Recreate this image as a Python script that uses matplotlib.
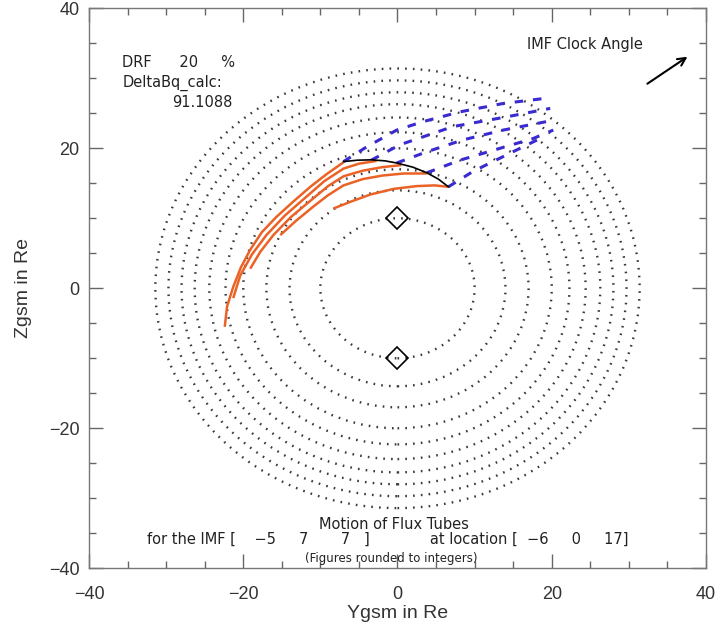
import matplotlib.pyplot as plt
from matplotlib.patches import Circle


plt.rcParams["font.family"] = ["Liberation Sans", "DejaVu Sans"]


# =========================================================
# Data (GSM coordinates, Re)
# =========================================================

# radii of the dotted magnetopause cross sections
contour_radii = [10, 14, 17, 20, 22.3, 24.4, 26.3, 28, 29.7, 31.4]

# cusp markers
cusp_y = [0, 0]
cusp_z = [10, -10]

# flux tube traces (orange)
tube1_y = [-22.4, -22.1, -21.3, -20.3, -19.1, -17.6, -15.7, -13.5, -11.3, -9.2, -7.0]
tube1_z = [-5.5, -2.6, 0.2, 3.0, 5.5, 8.0, 10.2, 12.4, 14.5, 16.3, 18.0]

tube2_y = [-21.3, -20.4, -18.9, -17.0, -14.6, -12.0, -9.5, -7.0, -5.0, -2.7]
tube2_z = [-1.4, 1.8, 4.8, 7.6, 10.4, 12.9, 15.3, 17.1, 17.8, 18.2]

tube3_y = [-19.1, -17.8, -16.1, -13.8, -11.3, -9.0, -7.0, -4.5, -2.0, 0.5]
tube3_z = [2.8, 5.2, 7.6, 10.2, 12.5, 14.6, 16.0, 16.8, 17.3, 17.6]

tube4_y = [-15.2, -13.2, -11.0, -9.0, -7.0, -4.5, -2.0, 0.8, 3.8]
tube4_z = [7.6, 9.6, 11.6, 13.3, 14.7, 15.6, 16.1, 16.4, 16.4]

tube5_y = [-8.3, -6.0, -3.5, -0.5, 2.5, 4.8, 6.6]
tube5_z = [11.4, 12.4, 13.4, 14.2, 14.6, 14.7, 14.5]

tubes = [
    (tube1_y, tube1_z),
    (tube2_y, tube2_z),
    (tube3_y, tube3_z),
    (tube4_y, tube4_z),
    (tube5_y, tube5_z),
]

# reconnection line (black)
xline_y = [-7.0, -5.2, -3.4, -1.6, -0.1, 2.0, 3.8, 5.3, 6.6]
xline_z = [18.1, 18.3, 18.35, 18.2, 17.9, 17.3, 16.5, 15.6, 14.5]

# draped field lines (blue dashed)
drape1_y = [-7.0, -4.0, -0.1, 3.3, 8.1, 13.7, 18.9]
drape1_z = [18.1, 20.2, 22.6, 23.8, 25.2, 26.4, 27.1]

drape2_y = [-3.4, 0.3, 7.2, 14.2, 19.8]
drape2_z = [18.3, 20.5, 23.1, 24.5, 25.7]

drape3_y = [-0.1, 3.8, 8.5, 13.7, 20.2]
drape3_z = [17.9, 19.5, 21.2, 22.6, 24.0]

drape4_y = [3.8, 8.1, 13.3, 17.6, 20.2]
drape4_z = [16.5, 18.3, 20.0, 21.4, 22.6]

drape5_y = [6.6, 9.8, 14.6, 18.5]
drape5_z = [14.5, 16.7, 19.3, 21.4]

drapes = [
    (drape1_y, drape1_z),
    (drape2_y, drape2_z),
    (drape3_y, drape3_z),
    (drape4_y, drape4_z),
    (drape5_y, drape5_z),
]

# IMF clock angle arrow (tail, head)
arrow_tail = (32.1, 29.0)
arrow_head = (37.9, 33.3)

drf = 20
delta_bq = 91.1088
imf = [-5, 7, 7]
location = [-6, 0, 17]


def num(v):
    # integer with a typographic minus sign
    return str(v).replace("-", "\u2212")


# =========================================================
# Figure
# =========================================================

fig = plt.figure(figsize=(7.22, 6.27), dpi=100)

ax = fig.add_axes([0.1233, 0.0936, 0.8545, 0.8932])

ax.set_xlim(-40, 40)
ax.set_ylim(-40, 40)


# dotted contours
for r in contour_radii:

    ax.add_patch(
        Circle(
            (0, 0),
            r,
            fill=False,
            edgecolor="#3a3a3a",
            linewidth=1.7,
            linestyle=(0, (0.7, 2.6)),
        )
    )


ax.plot(
    cusp_y,
    cusp_z,
    linestyle="none",
    marker="D",
    markersize=11.5,
    markerfacecolor="none",
    markeredgecolor="black",
    markeredgewidth=1.2,
)


for ys, zs in drapes:

    ax.plot(
        ys,
        zs,
        color="#3a2bd1",
        linewidth=2.2,
        linestyle=(0, (2.8, 3.2)),
    )


for ys, zs in tubes:

    ax.plot(
        ys,
        zs,
        color="#eb6226",
        linewidth=1.8,
        solid_capstyle="butt",
        solid_joinstyle="round",
    )


ax.plot(
    xline_y,
    xline_z,
    color="black",
    linewidth=1.2,
)


ax.annotate(
    "",
    xy=arrow_head,
    xytext=arrow_tail,
    arrowprops=dict(
        arrowstyle="->",
        color="black",
        linewidth=1.5,
        mutation_scale=14,
    ),
)


# =========================================================
# Labels
# =========================================================

small = dict(fontsize=10.5, color="#222222", family="DejaVu Sans")

ax.text(16.8, 34.8, "IMF Clock Angle", va="center", **small)

ax.text(-35.7, 32.2, "DRF      %d     %%" % drf, va="center", **small)
ax.text(-35.7, 29.3, "DeltaBq_calc:", va="center", **small)
ax.text(-21.4, 26.5, "%.4f" % delta_bq, va="center", ha="right", **small)

ax.text(-0.45, -33.8, "Motion of Flux Tubes", ha="center", va="center", **small)

ax.text(
    -32.5,
    -35.8,
    "for the IMF [    %s     %s       %s   ]             at location [  %s     %s     %s]"
    % tuple(num(v) for v in imf + location),
    va="center",
    **small
)

ax.text(
    -0.8,
    -38.6,
    "(Figures rounded to integers)",
    ha="center",
    va="center",
    fontsize=8.5,
    color="#222222",
    family="DejaVu Sans",
)


ax.set_xticks([-40, -20, 0, 20, 40])
ax.set_yticks([-40, -20, 0, 20, 40])
ax.set_xticks(range(-40, 41, 5), minor=True)
ax.set_yticks(range(-40, 41, 5), minor=True)

ax.tick_params(
    which="both",
    direction="in",
    top=True,
    right=True,
    colors="#666666",
    labelcolor="#333333",
    labelsize=13,
)
ax.tick_params(which="major", length=10, width=1)
ax.tick_params(which="minor", length=5, width=1)
ax.tick_params(axis="x", which="major", pad=13)
ax.tick_params(axis="y", which="major", pad=7)

ax.set_xticklabels([num(v) for v in [-40, -20, 0, 20, 40]])
ax.set_yticklabels([num(v) for v in [-40, -20, 0, 20, 40]])

for s in ax.spines.values():
    s.set_color("#777777")
    s.set_linewidth(1)

ax.set_xlabel("Ygsm in Re", fontsize=14, color="#333333", labelpad=1)
ax.set_ylabel("Zgsm in Re", fontsize=14, color="#333333", labelpad=12)


fig.savefig("out.png", dpi=100)
